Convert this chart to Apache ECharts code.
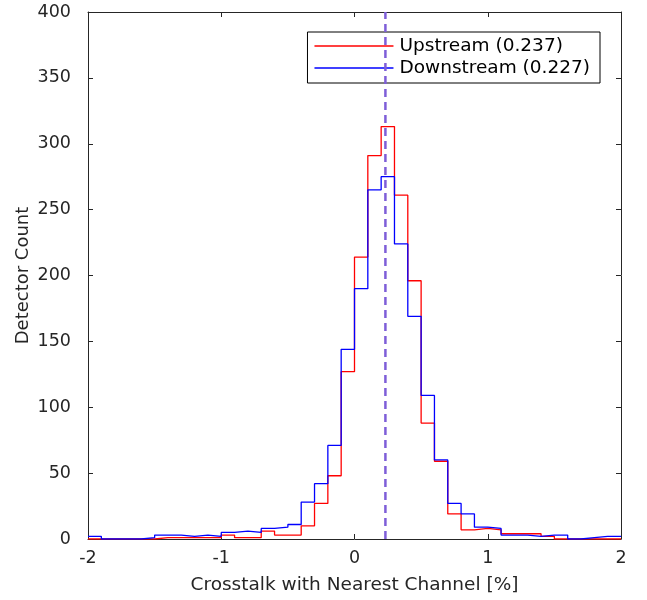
<!DOCTYPE html>
<html><head><meta charset="utf-8">
<script src="https://cdn.jsdelivr.net/npm/echarts@6/dist/echarts.min.js"></script>
<style>html,body{margin:0;padding:0;background:#fff}#c{width:647px;height:600px}</style>
</head><body><div id="c"></div>
<script>
// Histogram bins: lower edges from -2 to 1.9 step 0.1 (bin width 0.1)
const binStart = -2, binWidth = 0.1;
const upstream = [0,0,0,0,0,1,1,1,1,1, 3,1,1,6,3,3,10,27,48,127, 214,291,313,261,196,88,59,19,7,8, 7,4,4,4,2,0,0,0,0,0];
const downstream = [2,0,0,0,1,3,3,2,3,2, 5,6,5,8,9,11,28,42,71,144, 190,265,275,224,169,109,60,27,19,9, 8,3,3,2,3,3,0,1,2,2];
const meanLine = 0.232;
const seriesNames = ['Upstream (0.237)','Downstream (0.227)'];

function stepData(vals){
  const d = vals.map((v,i)=>[+(binStart+i*binWidth).toFixed(2), v]);
  d.push([+(binStart+vals.length*binWidth).toFixed(2), vals[vals.length-1]]);
  return d;
}
const font = '"DejaVu Sans", "Liberation Sans", Arial, sans-serif';
const axisCol = '#262626';
const chart = echarts.init(document.getElementById('c'));
function ax(extra){
  return Object.assign({
    type:'value',
    axisLine:{show:true,onZero:false,lineStyle:{color:axisCol,width:1}},
    axisTick:{show:true,inside:true,length:5,lineStyle:{color:axisCol}},
    splitLine:{show:false}
  }, extra);
}
chart.setOption({
  animation:false,
  backgroundColor:'#fff',
  grid:{left:88, right:26, top:12, bottom:59},
  legend:{
    data:[
      {name:seriesNames[0], icon:'rect', itemStyle:{color:'#ff0000',borderWidth:0}},
      {name:seriesNames[1], icon:'rect', itemStyle:{color:'#0000ff',borderWidth:0}}
    ],
    orient:'vertical', right:47, top:32,
    borderColor:'#000', borderWidth:1, borderRadius:0,
    padding:[4,10,5,7], itemGap:2, itemWidth:79, itemHeight:1.3,
    textStyle:{fontFamily:font, fontSize:18.5, color:'#000', lineHeight:20, padding:[0,0,0,1]}
  },
  xAxis:[
    ax({min:-2, max:2, interval:1, position:'bottom',
     axisLabel:{fontFamily:font,fontSize:17.5,color:axisCol,margin:10},
     name:'Crosstalk with Nearest Channel [%]', nameLocation:'middle', nameGap:37,
     nameTextStyle:{fontFamily:font,fontSize:18.5,color:axisCol}}),
    ax({min:-2, max:2, interval:1, position:'top', axisLabel:{show:false}})
  ],
  yAxis:[
    ax({min:0, max:400, interval:50, position:'left',
     axisLabel:{fontFamily:font,fontSize:17.5,color:axisCol,margin:17},
     name:'Detector Count', nameLocation:'middle', nameGap:56, nameMoveOverlap:false,
     nameTextStyle:{fontFamily:font,fontSize:18,color:axisCol}}),
    ax({min:0, max:400, interval:50, position:'right', axisLabel:{show:false}})
  ],
  series:[
    {name:seriesNames[0], type:'line', step:'end', data:stepData(upstream),
     showSymbol:false, symbol:'none', lineStyle:{color:'#ff0000',width:1.3}, itemStyle:{color:'#ff0000'}, z:3},
    {name:seriesNames[1], type:'line', step:'end', data:stepData(downstream),
     showSymbol:false, symbol:'none', lineStyle:{color:'#0000ff',width:1.3}, itemStyle:{color:'#0000ff'}, z:4},
    {name:'mean', type:'line', data:[[meanLine,0],[meanLine,400]], showSymbol:false, symbol:'none',
     lineStyle:{color:'#7e5ed8',width:2.5,type:[8,5]}, z:5}
  ]
});
</script></body></html>
